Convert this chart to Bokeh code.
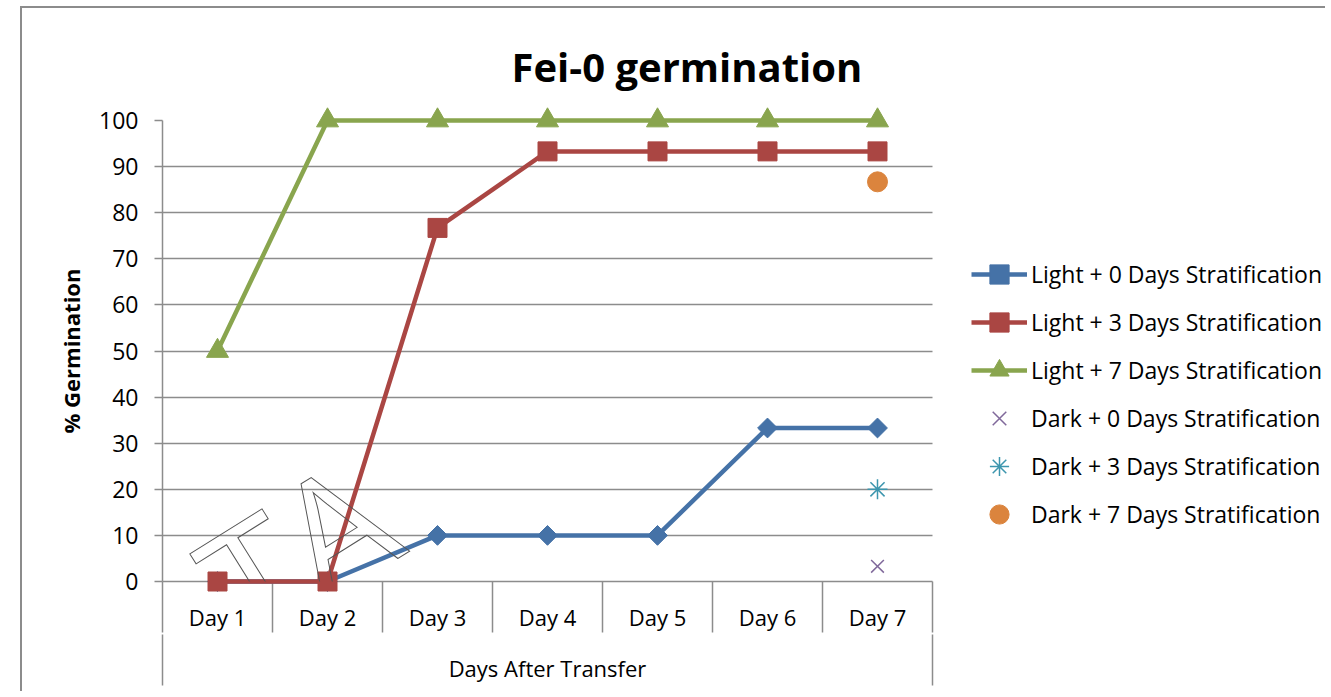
import math
from bokeh.plotting import figure
from bokeh.models import (Range1d, LinearAxis, FixedTicker,
                          Legend, LegendItem, Label)
from bokeh.embed import file_html
from bokeh.resources import INLINE

# ---- data ----
days = ["Day 1", "Day 2", "Day 3", "Day 4", "Day 5", "Day 6", "Day 7"]
light0 = [0, 0, 10, 10, 10, 33.3, 33.3]
light3 = [0, 0, 76.7, 93.3, 93.3, 93.3, 93.3]
light7 = [50, 100, 100, 100, 100, 100, 100]
dark_days = ["Day 7"]
dark0 = [3.3]
dark3 = [20]
dark7 = [86.7]
y_ticks = [0, 10, 20, 30, 40, 50, 60, 70, 80, 90, 100]
x_title = "Days After Transfer"
labels = ["Light + 0 Days Stratification", "Light + 3 Days Stratification",
          "Light + 7 Days Stratification", "Dark + 0 Days Stratification",
          "Dark + 3 Days Stratification", "Dark + 7 Days Stratification"]

# category slot centres (one slot per day)
xc = [days.index(d) + 0.5 for d in days]
xd = [days.index(d) + 0.5 for d in dark_days]

FONT = "Open Sans"
GRAY = "#8c8c8c"
BLUE, RED, GREEN = "#4572A7", "#AA4643", "#89A54E"
PURPLE, TEAL, ORANGE = "#80699B", "#3D96AE", "#DB843D"

W, H = 1305, 685
LEFT = 140
PLOT_W = 770          # width of the category area in px
FRAME_W = W - LEFT    # frame runs to the right edge (legend lives inside it)
x_end = len(days) * FRAME_W / PLOT_W

p = figure(width=W, height=H,
           x_range=Range1d(0, x_end),
           y_range=Range1d(0, 100),
           output_backend="svg", toolbar_location=None,
           x_axis_location=None,
           min_border_left=LEFT, min_border_right=0,
           min_border_top=112, min_border_bottom=112,
           styles={"margin-left": "20px", "margin-top": "6px",
                   "border-left": "2px solid #8c8c8c",
                   "border-top": "2px solid #8c8c8c"})
p.outline_line_color = None
p.background_fill_color = "white"
p.border_fill_color = "white"

# title
p.title.text = "Fei-0 germination"
p.title.text_font = FONT
p.title.text_font_style = "bold"
p.title.text_font_size = "40px"
p.title.text_color = "black"
p.title.align = "left"
p.title.offset = 349
p.title.standoff = 54

# y axis
ya = p.yaxis[0]
ya.ticker = FixedTicker(ticks=y_ticks, minor_ticks=[])
ya.axis_line_color = GRAY
ya.axis_line_width = 1.5
ya.major_tick_line_color = GRAY
ya.major_tick_line_width = 1.5
ya.major_tick_out = 8
ya.major_tick_in = 0
ya.minor_tick_line_color = None
ya.major_label_text_font = FONT
ya.major_label_text_font_size = "23px"
ya.major_label_text_color = "black"
ya.major_label_standoff = 16
ya.axis_label = "% Germination"
ya.axis_label_text_font = FONT
ya.axis_label_text_font_style = "bold"
ya.axis_label_text_font_size = "22px"
ya.axis_label_text_color = "black"
ya.axis_label_standoff = 10

for gr in p.grid:
    if gr.dimension == 0:
        gr.visible = False
g = p.ygrid[0]
g.grid_line_color = GRAY
g.grid_line_width = 1.5
g.ticker = FixedTicker(ticks=y_ticks)
if "cross_bounds" in g.properties():
    g.cross_bounds = (0, len(days))

# x axis A: day labels + dividers
axA = LinearAxis(ticker=FixedTicker(ticks=xc, minor_ticks=list(range(len(days) + 1))),
                 major_label_overrides={x: d for x, d in zip(xc, days)},
                 bounds=(0, len(days)))
axA.axis_line_color = GRAY
axA.axis_line_width = 1.5
axA.major_tick_out = 0
axA.major_tick_in = 0
axA.major_tick_line_color = None
axA.minor_tick_out = 51
axA.minor_tick_in = 0
axA.minor_tick_line_color = GRAY
axA.minor_tick_line_width = 1.5
axA.major_label_text_font = FONT
axA.major_label_text_font_size = "22px"
axA.major_label_text_color = "black"
axA.major_label_standoff = -31
p.add_layout(axA, "below")

# x axis B: outer category box with the axis title centred over the days
mid = len(days) / 2
axB = LinearAxis(ticker=FixedTicker(ticks=[mid], minor_ticks=[0, len(days)]),
                 major_label_overrides={mid: x_title},
                 bounds=(0, len(days)))
axB.axis_line_color = None
axB.major_tick_out = 0
axB.major_tick_in = 0
axB.major_tick_line_color = None
axB.minor_tick_out = 51
axB.minor_tick_in = 0
axB.minor_tick_line_color = GRAY
axB.minor_tick_line_width = 1.5
axB.major_label_text_font = FONT
axB.major_label_text_font_size = "22px"
axB.major_label_text_color = "black"
axB.major_label_standoff = -33
p.add_layout(axB, "below")

# series
l0 = p.line(xc, light0, line_color=BLUE, line_width=4.5, level="overlay")
s0 = p.scatter(xc, light0, marker="square", size=14, angle=math.pi / 4,
               fill_color=BLUE, line_color=BLUE, level="overlay")
l3 = p.line(xc, light3, line_color=RED, line_width=4.5, level="overlay")
s3 = p.scatter(xc, light3, marker="square", size=19,
               fill_color=RED, line_color=RED, level="overlay")
l7 = p.line(xc, light7, line_color=GREEN, line_width=4.5, level="overlay")
s7 = p.scatter(xc, light7, marker="triangle", size=22,
               fill_color=GREEN, line_color=GREEN, level="overlay")
d0 = p.scatter(xd, dark0, marker="x", size=18, line_color=PURPLE,
               line_width=1.5, level="overlay")
d3 = p.scatter(xd, dark3, marker="asterisk", size=20, line_color=TEAL,
               line_width=1.5, level="overlay")
d7 = p.scatter(xd, dark7, marker="circle", size=20, fill_color=ORANGE,
               line_color=ORANGE, level="overlay")

legend = Legend(items=[
    LegendItem(label=labels[0], renderers=[l0, s0]),
    LegendItem(label=labels[1], renderers=[l3, s3]),
    LegendItem(label=labels[2], renderers=[l7, s7]),
    LegendItem(label=labels[3], renderers=[d0]),
    LegendItem(label=labels[4], renderers=[d3]),
    LegendItem(label=labels[5], renderers=[d7]),
], location=(PLOT_W + 39, 43))
legend.label_text_font = FONT
legend.label_text_font_size = "23px"
legend.label_text_color = "black"
legend.glyph_width = 56
legend.glyph_height = 48
legend.label_height = 48
legend.label_standoff = 4
legend.spacing = 0
legend.padding = 0
legend.margin = 0
legend.border_line_color = None
legend.background_fill_alpha = 0
p.add_layout(legend)

# watermark (outlined, transparent letters)
wm = Label(x=1.95, y=18.0, text="DATA",
           angle=0.5585, text_align="right", text_baseline="alphabetic",
           text_font=FONT, text_font_size="160px",
           text_color=(255, 255, 255, 0.0), text_alpha=1.0,
           text_outline_color="#555555", level="overlay")
p.add_layout(wm)

open("out.html", "w").write(file_html(p, INLINE))
